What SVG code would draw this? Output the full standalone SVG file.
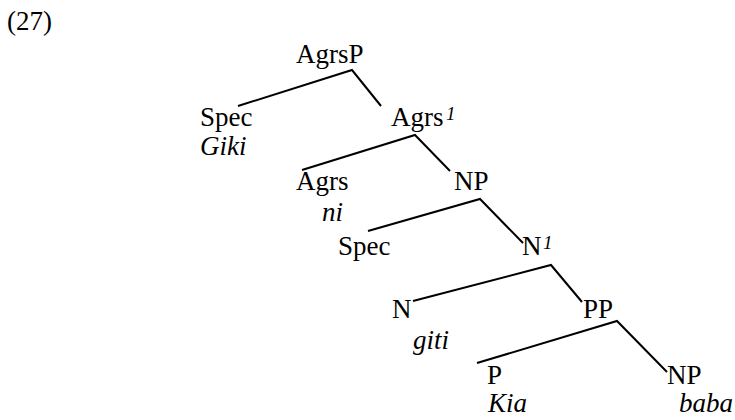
<svg xmlns="http://www.w3.org/2000/svg" width="735" height="420" viewBox="0 0 735 420">
  <style>
    .t { font-family: "Liberation Serif", "Times New Roman", serif; font-size: 27px; fill: #000; }
    .i { font-style: italic; }
    .sup { font-family: "Liberation Serif", "Times New Roman", serif; font-size: 19px; font-style: italic; fill: #000; }
    .edge { fill: none; stroke: #000; stroke-width: 2; stroke-linejoin: miter; }
  </style>
  <rect width="735" height="420" fill="#fff"/>

  <text class="t" x="7" y="30">(27)</text>

  <!-- tree branches -->
  <g id="connectors">
    <polyline class="edge" points="238,106 352,70 381,106"/>
    <polyline class="edge" points="302,170 415,135 450,171"/>
    <polyline class="edge" points="368,231 480,199 523,243"/>
    <polyline class="edge" points="413,301 551,265 582,302"/>
    <polyline class="edge" points="477,363 617,321 667,372"/>
  </g>

  <g id="agrsp"><text class="t" x="296" y="63">AgrsP</text></g>
  <g id="spec1"><text class="t" x="200" y="126">Spec</text><text class="t i" x="200" y="155">Giki</text></g>
  <g id="agrs-bar"><text class="t" x="391" y="126">Agrs</text><text class="sup" x="446" y="120">1</text></g>
  <g id="agrs"><text class="t" x="296" y="190">Agrs</text><text class="t i" x="322" y="221">ni</text></g>
  <g id="np1"><text class="t" x="454" y="190">NP</text></g>
  <g id="spec2"><text class="t" x="338" y="255">Spec</text></g>
  <g id="n-bar"><text class="t" x="522" y="255">N</text><text class="sup" x="543" y="249">1</text></g>
  <g id="n"><text class="t" x="392" y="318">N</text><text class="t i" x="413" y="349">giti</text></g>
  <g id="pp"><text class="t" x="583" y="318">PP</text></g>
  <g id="p"><text class="t" x="487" y="384">P</text><text class="t i" x="488" y="412">Kia</text></g>
  <g id="np2"><text class="t" x="667" y="384">NP</text><text class="t i" x="679" y="412">baba</text></g>
</svg>
